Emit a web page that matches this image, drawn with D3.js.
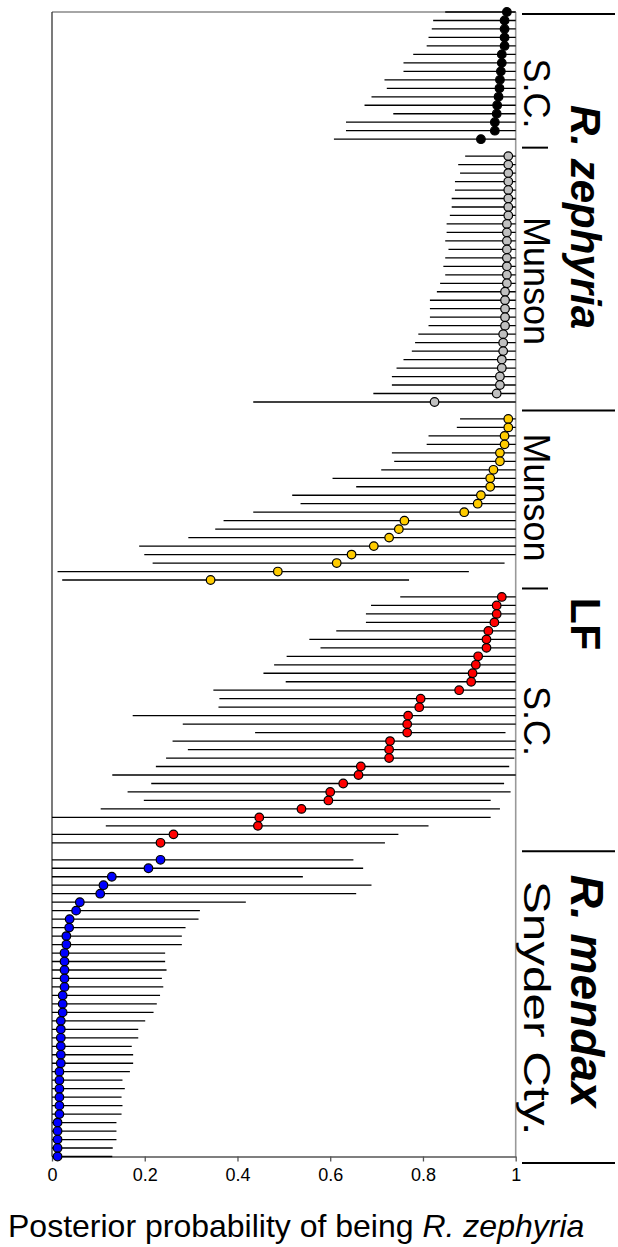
<!DOCTYPE html>
<html>
<head>
<meta charset="utf-8">
<script src="https://cdn.jsdelivr.net/npm/d3@7"></script>
<style>
body { margin: 0; background: #fff; }
text { font-family: "Liberation Sans", Arial, sans-serif; }
</style>
</head>
<body>
<script>
// posterior estimates (mean) with lower / upper credible limits, one row per individual

// R. zephyria, S.C.
var zephScMean = [0.981, 0.976, 0.976, 0.976, 0.976, 0.970, 0.970, 0.968, 0.966, 0.965, 0.963, 0.960, 0.959, 0.955, 0.955, 0.925];
var zephScLow  = [0.848, 0.822, 0.819, 0.812, 0.808, 0.779, 0.758, 0.758, 0.717, 0.722, 0.689, 0.674, 0.736, 0.634, 0.634, 0.608];
var zephScHigh = [1, 1, 1, 1, 1, 1, 1, 1, 1, 1, 1, 1, 1, 1, 1, 1];

// R. zephyria, Munson
var zephMunMean = [0.984, 0.984, 0.984, 0.984, 0.984, 0.984, 0.984, 0.984,
                   0.981, 0.981, 0.981, 0.981, 0.981, 0.981, 0.981, 0.981,
                   0.977, 0.977, 0.977, 0.977, 0.977, 0.973, 0.973, 0.973,
                   0.970, 0.970, 0.966, 0.966, 0.959, 0.825];
var zephMunLow  = [0.891, 0.876, 0.880, 0.869, 0.869, 0.862, 0.862, 0.858,
                   0.851, 0.851, 0.848, 0.855, 0.848, 0.844, 0.848, 0.837,
                   0.830, 0.815, 0.815, 0.815, 0.812, 0.790, 0.783, 0.776,
                   0.758, 0.743, 0.733, 0.733, 0.693, 0.434];
var zephMunHigh = [1, 1, 1, 1, 1, 1, 1, 1, 1, 1, 1, 1, 1, 1, 1,
                   1, 1, 1, 1, 1, 1, 1, 1, 1, 1, 1, 1, 1, 1, 1];

// LF, Munson
var lfMunMean = [0.984, 0.984, 0.976, 0.976, 0.966, 0.966, 0.952, 0.945, 0.945, 0.925,
                 0.918, 0.889, 0.760, 0.748, 0.727, 0.694, 0.646, 0.614, 0.487, 0.342];
var lfMunLow  = [0.880, 0.873, 0.812, 0.808, 0.733, 0.738, 0.710, 0.605, 0.656, 0.518,
                 0.536, 0.434, 0.370, 0.352, 0.294, 0.188, 0.199, 0.217, 0.012, 0.022];
var lfMunHigh = [1, 1, 1, 1, 1, 1, 1, 1, 1, 1,
                 1, 1, 1, 1, 1, 1, 1, 0.976, 0.899, 0.770];

// LF, S.C.
var lfScMean = [0.970, 0.959, 0.959, 0.954, 0.941, 0.937, 0.937, 0.919, 0.914, 0.907,
                0.904, 0.878, 0.795, 0.792, 0.768, 0.766, 0.766, 0.729, 0.727, 0.727,
                0.666, 0.661, 0.628, 0.600, 0.596, 0.538, 0.447, 0.444, 0.262, 0.234];
var lfScLow  = [0.751, 0.688, 0.677, 0.677, 0.613, 0.555, 0.579, 0.506, 0.479, 0.456,
                0.504, 0.348, 0.361, 0.359, 0.174, 0.282, 0.438, 0.260, 0.293, 0.246,
                0.224, 0.130, 0.214, 0.163, 0.198, 0.105, 0, 0.116, 0, 0];
var lfScHigh = [1, 1, 1, 1, 1, 1, 1, 1, 1, 1,
                1, 1, 1, 1, 1, 1, 0.978, 1, 1, 0.997,
                0.986, 1, 0.975, 0.989, 0.946, 0.966, 0.946, 0.812, 0.747, 0.718];

// R. mendax, Snyder Cty.
var mendaxMean = [0.234, 0.208, 0.129, 0.111, 0.104, 0.060, 0.052, 0.038,
                  0.037, 0.031, 0.031, 0.027, 0.027, 0.027, 0.027, 0.027,
                  0.023, 0.023, 0.023, 0.019, 0.019, 0.019, 0.019, 0.019,
                  0.019, 0.016, 0.016, 0.016, 0.016, 0.016, 0.016, 0.012,
                  0.012, 0.012, 0.012, 0.012];
var mendaxLow  = [0, 0, 0, 0, 0, 0, 0, 0, 0, 0, 0, 0, 0, 0, 0, 0, 0, 0,
                  0, 0, 0, 0, 0, 0, 0, 0, 0, 0, 0, 0, 0, 0, 0, 0, 0, 0];
var mendaxHigh = [0.650, 0.671, 0.541, 0.689, 0.656, 0.418, 0.319, 0.316,
                  0.288, 0.280, 0.280, 0.244, 0.244, 0.247, 0.237, 0.240,
                  0.233, 0.226, 0.219, 0.201, 0.186, 0.186, 0.172, 0.175,
                  0.175, 0.168, 0.152, 0.157, 0.150, 0.152, 0.150, 0.139,
                  0.139, 0.139, 0.131, 0.130];

var popLabels = ["S.C.", "Munson", "Munson", "S.C.", "Snyder Cty."];
var speciesLabels = ["R. zephyria", "LF", "R. mendax"];
var speciesGroups = [[0, 1], [2, 3], [4]];
var speciesItalic = [true, false, true];
var xTicks = [0, 0.2, 0.4, 0.6, 0.8, 1];

var fills = ["#000000", "#c0c0c0", "#ffcc00", "#ff0000", "#0000ff"];

var groups = [
  {mean: zephScMean, low: zephScLow, high: zephScHigh},
  {mean: zephMunMean, low: zephMunLow, high: zephMunHigh},
  {mean: lfMunMean, low: lfMunLow, high: lfMunHigh},
  {mean: lfScMean, low: lfScLow, high: lfScHigh},
  {mean: mendaxMean, low: mendaxLow, high: mendaxHigh}
];

// lay rows out top to bottom, one empty slot between populations
var rows = [];
var slot = 0;
groups.forEach(function(g, gi) {
  g.start = slot;
  g.mean.forEach(function(m, i) {
    rows.push({slot: slot + i, mean: m, low: g.low[i], high: g.high[i], fill: fills[gi]});
  });
  slot += g.mean.length;
  g.end = slot - 1;
  slot += 1;
});
var lastSlot = slot - 2;

var width = 618,
    height = 1247;

var x = d3.scaleLinear().domain([0, 1]).range([52, 515.7]);
var y = d3.scaleLinear().domain([0, lastSlot]).range([12, 1156.5]);

var svg = d3.select("body").append("svg")
    .attr("width", width)
    .attr("height", height);

// frame
var frame = svg.append("g").attr("class", "frame");
frame.append("line")
    .attr("x1", x(0)).attr("x2", x(1)).attr("y1", y(0)).attr("y2", y(0))
    .style("stroke", "#888").style("stroke-width", 1.3);
frame.append("line")
    .attr("x1", x(1)).attr("x2", x(1)).attr("y1", y(0)).attr("y2", y(lastSlot))
    .style("stroke", "#999").style("stroke-width", 1.6);
frame.append("line")
    .attr("x1", x(0)).attr("x2", x(0)).attr("y1", y(0)).attr("y2", y(lastSlot))
    .style("stroke", "#333").style("stroke-width", 1.3);

// x axis
var xAxis = d3.axisBottom(x)
    .tickValues(xTicks)
    .tickFormat(d3.format("~g"))
    .tickSize(5)
    .tickSizeOuter(0);

var axisG = svg.append("g")
    .attr("class", "x-axis")
    .attr("transform", "translate(0," + y(lastSlot) + ")")
    .call(xAxis);
axisG.select(".domain").style("stroke", "#555").style("stroke-width", 1.6);
axisG.selectAll(".tick line").style("stroke", "#555").style("stroke-width", 1.3);
axisG.selectAll(".tick text")
    .attr("y", 24)
    .attr("dy", 0)
    .style("font-size", "18px")
    .style("font-family", "'Liberation Sans', Arial, sans-serif")
    .style("fill", "#000");

// credible intervals
var plot = svg.append("g").attr("class", "plot");
plot.selectAll("line.ci")
    .data(rows)
    .enter().append("line")
    .attr("class", "ci")
    .attr("x1", d => x(d.low))
    .attr("x2", d => x(d.high))
    .attr("y1", d => y(d.slot))
    .attr("y2", d => y(d.slot))
    .style("stroke", "#000")
    .style("stroke-width", 1.3);

plot.selectAll("circle.est")
    .data(rows)
    .enter().append("circle")
    .attr("class", "est")
    .attr("cx", d => x(d.mean))
    .attr("cy", d => y(d.slot))
    .attr("r", 4.3)
    .style("fill", d => d.fill)
    .style("stroke", "#000")
    .style("stroke-width", 1.2);

// right-hand brackets and labels
var side = svg.append("g").attr("class", "side");

function sepLine(yy, long) {
  side.append("line")
    .attr("x1", 522).attr("x2", long ? 615 : 548)
    .attr("y1", yy).attr("y2", yy)
    .style("stroke", "#000").style("stroke-width", 2);
}

sepLine(y(0) + 2, true);
groups.forEach(function(g, gi) {
  if (gi == groups.length - 1) return;
  var longSep = speciesGroups.some(s => s[s.length - 1] == gi);
  sepLine(y(g.end + 1), longSep);
});
sepLine(y(lastSlot) + 6.5, true);

// small nudges so the labels sit where the original figure put them
var popShift = [18, 2, -2, 1, 0];
var speciesShift = [10, -7, -17];
var speciesSize = [42, 43, 46];

groups.forEach(function(g, gi) {
  var cy = (y(g.start) + y(g.end)) / 2 + popShift[gi];
  var t = side.append("text")
    .attr("transform", "translate(524," + cy + ") rotate(90)")
    .attr("text-anchor", "middle")
    .style("font-size", "36px")
    .text(popLabels[gi]);
  // the original stretches the long county label along its group
  if (gi == 4) t.attr("textLength", 255).attr("lengthAdjust", "spacingAndGlyphs");
});

speciesGroups.forEach(function(s, si) {
  var cy = (y(groups[s[0]].start) + y(groups[s[s.length - 1]].end)) / 2 + speciesShift[si];
  side.append("text")
    .attr("transform", "translate(571," + cy + ") rotate(90)")
    .attr("text-anchor", "middle")
    .style("font-size", speciesSize[si] + "px")
    .style("font-weight", "bold")
    .style("font-style", speciesItalic[si] ? "italic" : "normal")
    .text(speciesLabels[si]);
});

// axis title
var title = svg.append("text")
    .attr("x", 8)
    .attr("y", 1237)
    .style("font-size", "32px");
title.append("tspan").text("Posterior probability of being ");
title.append("tspan").style("font-style", "italic").text("R. zephyria");
</script>
</body>
</html>
